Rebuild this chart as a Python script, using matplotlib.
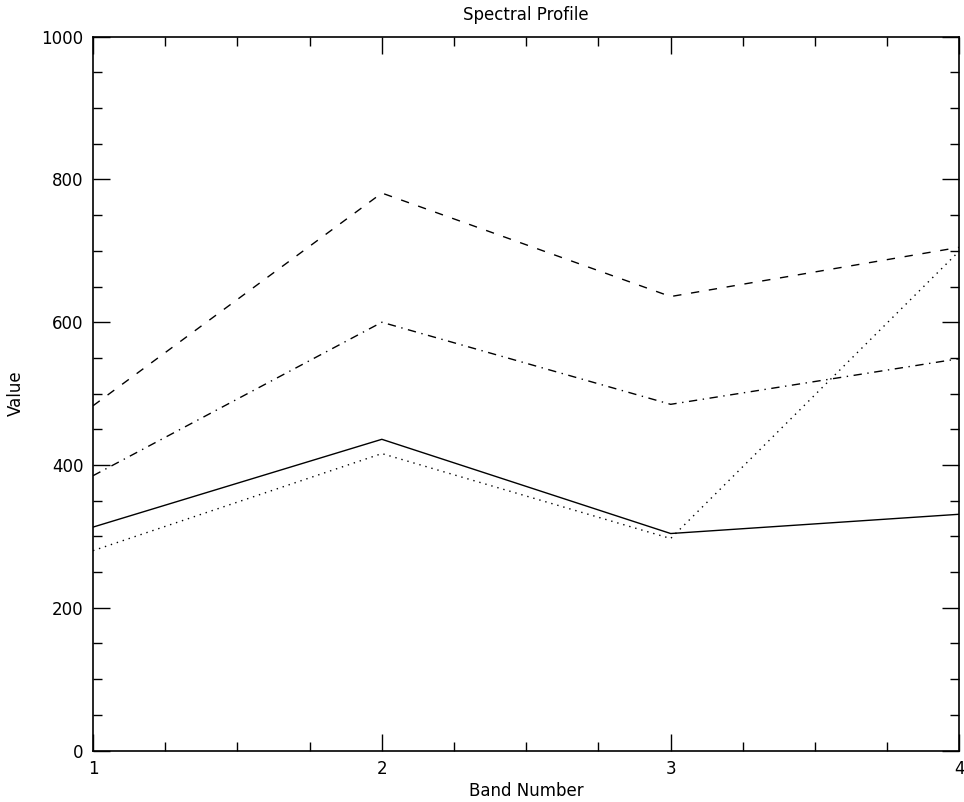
import matplotlib
matplotlib.use("Agg")
import matplotlib.pyplot as plt
from matplotlib.ticker import MultipleLocator

# band numbers and the four profiles
bands = [1, 2, 3, 4]
solid_vals = [313, 436, 304, 331]
dotted_vals = [280, 416, 297, 700]
dashed_vals = [483, 781, 636, 705]
dashdot_vals = [385, 600, 485, 549]

fig = plt.figure(figsize=(9.64, 8.02), dpi=100)
ax = fig.add_axes([0.0965, 0.0642, 0.8988, 0.89])

lw = 1.0
ax.plot(bands, solid_vals, color="black", lw=lw, linestyle="-")
ax.plot(bands, dotted_vals, color="black", lw=lw, linestyle=(0, (1, 3.5)))
ax.plot(bands, dashed_vals, color="black", lw=lw, linestyle=(0, (6, 7)))
ax.plot(bands, dashdot_vals, color="black", lw=lw, linestyle=(0, (6, 4, 1, 4)))

ax.set_xlim(1, 4)
ax.set_ylim(0, 1000)
ax.xaxis.set_major_locator(MultipleLocator(1))
ax.xaxis.set_minor_locator(MultipleLocator(0.25))
ax.yaxis.set_major_locator(MultipleLocator(200))
ax.yaxis.set_minor_locator(MultipleLocator(50))

ax.tick_params(which="both", direction="in", top=True, right=True,
               colors="black", labelsize=12, width=1.0)
ax.tick_params(which="major", length=12, pad=7)
ax.tick_params(which="minor", length=6.5)
for s in ax.spines.values():
    s.set_linewidth(1.2)

ax.set_title("Spectral Profile", fontsize=12, pad=12)
ax.set_xlabel("Band Number", fontsize=12, labelpad=3)
ax.set_ylabel("Value", fontsize=12, labelpad=12)

fig.savefig("out.png", dpi=100)
